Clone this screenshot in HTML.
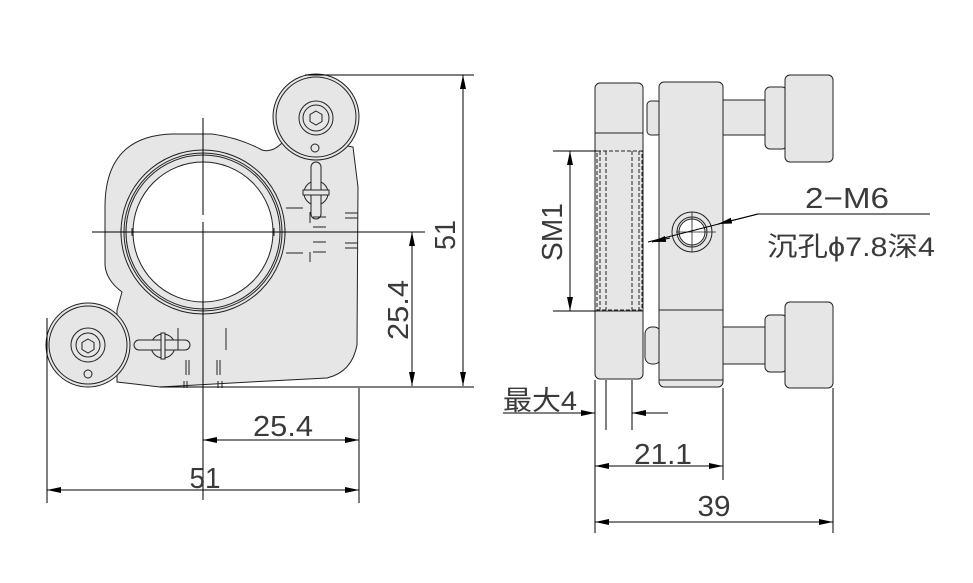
<!DOCTYPE html>
<html><head><meta charset="utf-8"><style>
html,body{margin:0;padding:0;background:#fff;}
svg{display:block;}
text{font-family:"Liberation Sans","Noto Sans CJK SC",sans-serif;fill:#3a3a3a;}
</style></head><body>
<svg width="973" height="583" viewBox="0 0 973 583" xmlns="http://www.w3.org/2000/svg">
<defs>
<marker id="a" markerWidth="14" markerHeight="6" refX="14" refY="3" orient="auto" markerUnits="userSpaceOnUse">
<path d="M0,0 L14,3 L0,6 Z" fill="#000"/></marker>
<marker id="b" markerWidth="14" markerHeight="6" refX="0" refY="3" orient="auto" markerUnits="userSpaceOnUse">
<path d="M14,0 L0,3 L14,6 Z" fill="#000"/></marker>
</defs>
<g stroke="#222" stroke-width="1" fill="#e6e6e6">
<!-- left body -->
<path d="M117,310 L122,292 Q106,280 105,265 L105,205 Q106,136 172,134 L212,134 Q240,138 262,150 Q272,153 282,143 L315,140 L353,147 L358,187 L357,345 Q352,372 327,378 L250,382 L160,387 L117,382 Z"/>
<circle cx="203" cy="232" r="82" fill="#e6e6e6"/>
<circle cx="203" cy="232" r="79" fill="none"/>
<circle cx="203" cy="232" r="77" fill="none"/>
<circle cx="203" cy="232" r="70" fill="#fff"/>
<!-- top knob -->
<circle cx="316" cy="117" r="43"/>
<circle cx="316" cy="117" r="40" fill="none"/>
<circle cx="316" cy="118" r="17" fill="none"/>
<circle cx="316" cy="118" r="13" fill="none"/>
<path d="M316,111 l6,3.5 v7 l-6,3.5 l-6,-3.5 v-7 z" fill="none"/>
<circle cx="315" cy="148" r="4" fill="none"/>
<!-- screw top -->
<circle cx="316" cy="193" r="12" fill="none"/>
<rect x="311" y="162" width="10" height="57" rx="5"/>
<rect x="303" y="190" width="26" height="5"/>
<!-- lower knob -->
<circle cx="88" cy="345" r="42"/>
<circle cx="88" cy="345" r="39" fill="none"/>
<circle cx="88" cy="345" r="17" fill="none"/>
<circle cx="88" cy="345" r="12" fill="none"/>
<path d="M88,339 l6,3.5 v7 l-6,3.5 l-6,-3.5 v-7 z" fill="none"/>
<circle cx="88" cy="374" r="4" fill="none"/>
<circle cx="163" cy="346" r="12" fill="none"/>
<rect x="134" y="340" width="56" height="10" rx="5"/>
<rect x="161" y="333" width="4" height="26"/>
</g>
<g stroke="#222" stroke-width="1" fill="none">
<path d="M286,208 H303 M286,253 H303 M310,212 V223 M310,252 V262 M313,217 H326 M313,227 H326 M313,242 H326 M313,252 H326 M345,213 H358 M345,218 H358 M345,243 H358 M345,248 H358"/>
<path d="M178,328 V350 M226,328 V350 M186,360 V375 M189,360 V375 M217,360 V375 M220,360 V375 M184,381 V388 M187,381 V388 M218,381 V388 M222,381 V388"/>
<path d="M121,228 V236 M132,228 V236 M274,228 V236 M285,228 V236"/>
<!-- center lines -->
<path d="M92,232 H425 M203,118 V215 M203,222 V500" stroke="#000"/>
<!-- left dims -->
<path d="M305,75 H474 M160,387 H474 M47,318 V503 M359,388 V503" stroke="#000"/>
<line x1="463" y1="75" x2="463" y2="386" stroke="#000" marker-start="url(#b)" marker-end="url(#a)"/>
<line x1="412" y1="232" x2="412" y2="386" stroke="#000" marker-start="url(#b)" marker-end="url(#a)"/>
<line x1="203" y1="440" x2="359" y2="440" stroke="#000" marker-start="url(#b)" marker-end="url(#a)"/>
<line x1="47" y1="490" x2="359" y2="490" stroke="#000" marker-start="url(#b)" marker-end="url(#a)"/>
</g>
<!-- right view -->
<g stroke="#222" stroke-width="1" fill="#e6e6e6">
<rect x="723" y="100" width="44" height="35"/>
<rect x="723" y="327" width="44" height="37"/>
<rect x="765" y="87" width="22" height="62" rx="5"/>
<rect x="785" y="75" width="48" height="87" rx="5"/>
<rect x="765" y="315" width="22" height="57" rx="5"/>
<rect x="785" y="302" width="48" height="86" rx="5"/>
<rect x="647" y="101" width="14" height="34" rx="4"/>
<rect x="645" y="327" width="16" height="37" rx="7"/>
<rect x="595" y="83" width="48" height="296" rx="5"/>
<rect x="659" y="82" width="64" height="305" rx="5"/>
</g>
<g stroke="#222" stroke-width="1" fill="none">
<path d="M595,133 H643 M595,311 H643 M659,310 H723 M659,380 H723"/>
<g stroke-dasharray="4,2">
<rect x="597" y="151" width="45" height="159"/>
<path d="M606,151 V310 M632,151 V310 M600,151 V310 M639,151 V310"/>
</g>
<circle cx="692" cy="232" r="20"/>
<circle cx="692" cy="232" r="15"/>
<circle cx="692" cy="232" r="13" fill="#fff"/>
<path d="M676,232 H716 M692,212 V252" stroke-width="0.8"/>
</g>
<g stroke="#000" stroke-width="1" fill="none">
<path d="M930,214 H758 L648,242"/>
<line x1="758" y1="214" x2="718" y2="224" marker-end="url(#a)"/>
<line x1="670" y1="238" x2="652" y2="242" marker-end="url(#a)"/>
<path d="M553,151 H597 M553,311 H597"/>
<line x1="570" y1="151" x2="570" y2="311" marker-start="url(#b)" marker-end="url(#a)"/>
<path d="M595,380 V533 M606,380 V430 M632,380 V430 M723,388 V480 M833,388 V533"/>
<line x1="503" y1="413" x2="595" y2="413" marker-end="url(#a)"/>
<line x1="668" y1="413" x2="632" y2="413" marker-end="url(#a)"/>
<line x1="595" y1="466" x2="723" y2="466" marker-start="url(#b)" marker-end="url(#a)"/>
<line x1="595" y1="522" x2="833" y2="522" marker-start="url(#b)" marker-end="url(#a)"/>
</g>
<g font-size="29">
<text x="445" y="245" text-anchor="middle" transform="rotate(-90 445 235)" textLength="30" lengthAdjust="spacingAndGlyphs">51</text>
<text x="398" y="320" text-anchor="middle" transform="rotate(-90 398 310)" textLength="60" lengthAdjust="spacingAndGlyphs">25.4</text>
<text x="283" y="436" text-anchor="middle" textLength="60" lengthAdjust="spacingAndGlyphs">25.4</text>
<text x="205" y="488" text-anchor="middle" textLength="31" lengthAdjust="spacingAndGlyphs">51</text>
<text x="552" y="242" text-anchor="middle" transform="rotate(-90 552 232)" textLength="58" lengthAdjust="spacingAndGlyphs">SM1</text>
<text x="847" y="208" text-anchor="middle" textLength="84" lengthAdjust="spacingAndGlyphs">2−M6</text>
<text x="767" y="256" font-size="27" textLength="168" lengthAdjust="spacingAndGlyphs">沉孔ϕ7.8深4</text>
<text x="503" y="410" font-size="27" textLength="74" lengthAdjust="spacingAndGlyphs">最大4</text>
<text x="663" y="464" text-anchor="middle" textLength="58" lengthAdjust="spacingAndGlyphs">21.1</text>
<text x="714" y="516" text-anchor="middle" textLength="33" lengthAdjust="spacingAndGlyphs">39</text>
</g>
</svg>
</body></html>
